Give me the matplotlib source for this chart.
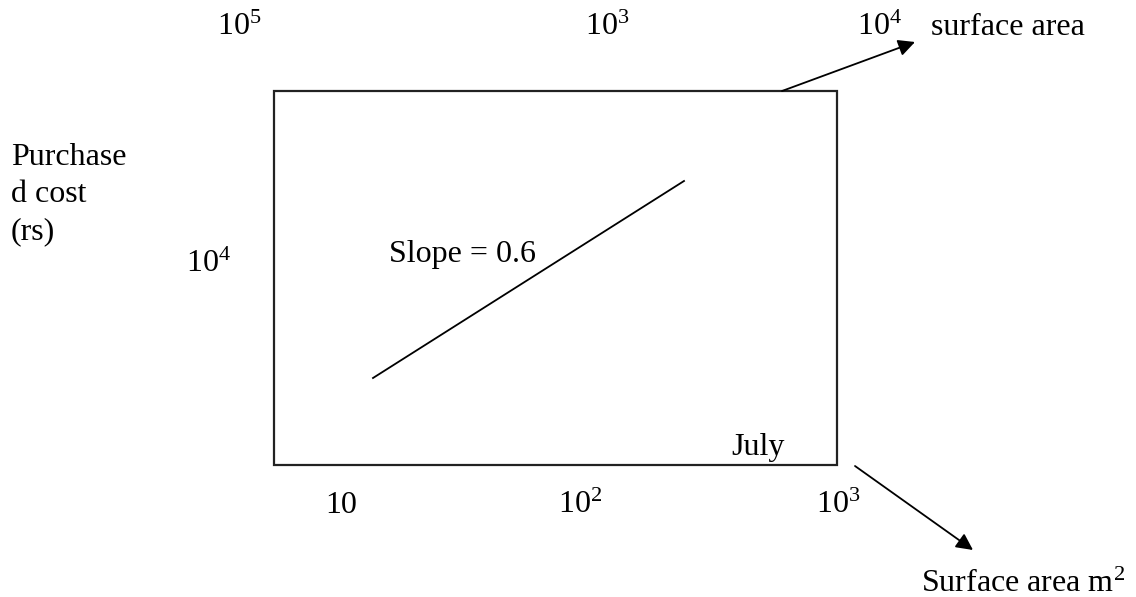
import matplotlib.pyplot as plt
from matplotlib.patches import Rectangle

plt.rcParams['font.family'] = 'Liberation Serif'
plt.rcParams['mathtext.fontset'] = 'custom'
plt.rcParams['mathtext.rm'] = 'Liberation Serif'

# sketch data (drawing in pixel units of the page)
top_ticks = [r'$\mathregular{10^5}$', r'$\mathregular{10^3}$', r'$\mathregular{10^4}$']
bottom_ticks = ['10', r'$\mathregular{10^2}$', r'$\mathregular{10^3}$']
left_tick = r'$\mathregular{10^4}$'
ylabel_lines = ['Purchase', 'd cost', '(rs)']
line_x = [373, 684]
line_y = [378, 181]
slope_label = 'Slope = 0.6'

fig = plt.figure(figsize=(11.36, 5.97), dpi=100)
ax = fig.add_axes([0, 0, 1, 1])
ax.set_xlim(0, 1136)
ax.set_ylim(597, 0)
ax.axis('off')

fs = 23

# box
ax.add_patch(Rectangle((274, 91), 563, 374, fill=False, lw=1.6, ec='#222222'))

# cost line
ax.plot(line_x, line_y, color='black', lw=1.3)
ax.text(389, 262, slope_label, fontsize=fs, va='baseline')
ax.text(731, 455, 'July', fontsize=fs, va='baseline')

# top labels
for x, t in zip([217, 585, 857], top_ticks):
    ax.text(x, 35, t, fontsize=fs, va='baseline')
ax.text(931, 35, 'surface area', fontsize=fs, va='baseline')
ax.annotate('', xy=(915, 42), xytext=(782, 91),
            arrowprops=dict(arrowstyle='-|>', color='black', lw=1.3,
                            mutation_scale=25, shrinkA=0, shrinkB=0))

# left labels
for i, t in enumerate(ylabel_lines):
    ax.text(11, 165 + 37 * i, t, fontsize=fs, va='baseline')
ax.text(186, 272, left_tick, fontsize=fs, va='baseline')

# bottom labels
for x, t in zip([325, 558, 816], bottom_ticks):
    ax.text(x, 513, t, fontsize=fs, va='baseline')
ax.annotate('', xy=(973, 550), xytext=(855, 466),
            arrowprops=dict(arrowstyle='-|>', color='black', lw=1.3,
                            mutation_scale=25, shrinkA=0, shrinkB=0))
ax.text(921, 592, r'Surface area m$\mathregular{^2}$', fontsize=fs, va='baseline')

fig.savefig('out.png', dpi=100, facecolor='white')
